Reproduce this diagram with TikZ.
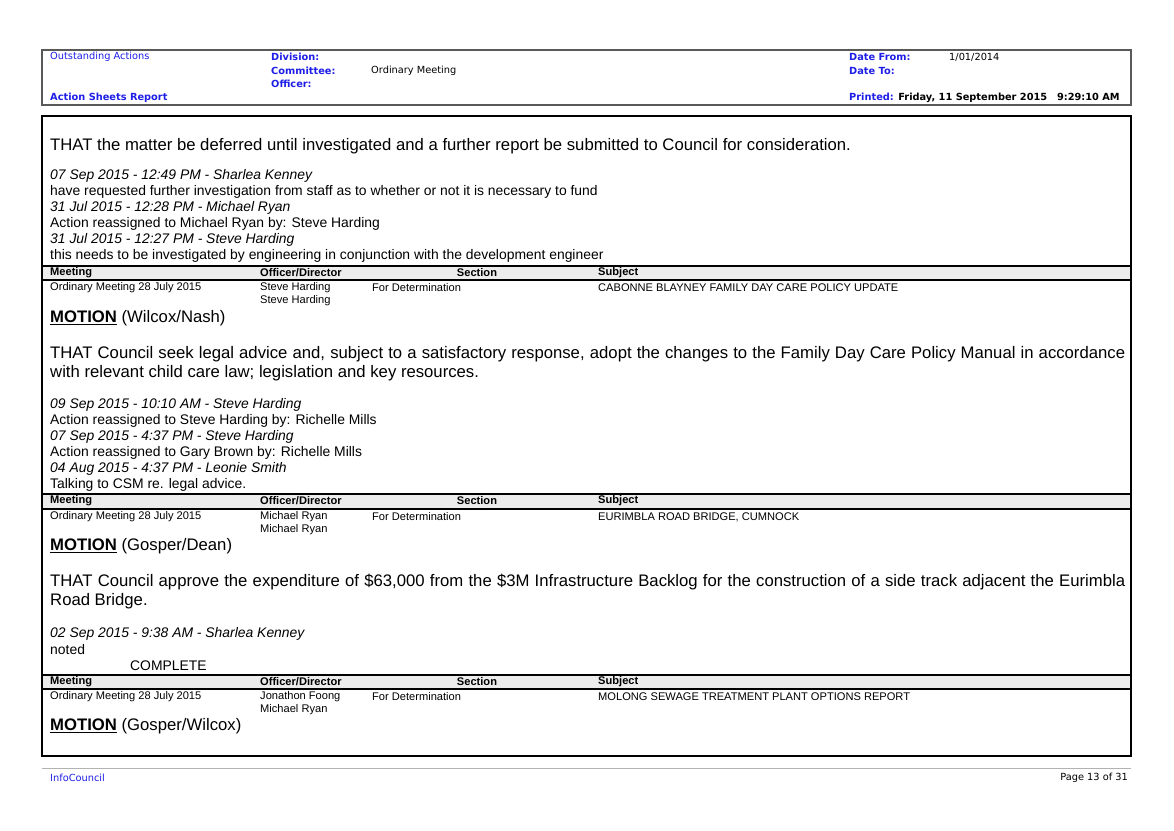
\documentclass[tikz,border=0pt]{standalone}
\usepackage{fontspec}
\setmainfont{Liberation Sans}
\newfontfamily\hdr{DejaVu Sans}
\definecolor{hblue}{RGB}{30,30,230}
\tikzset{
 t/.style={anchor=west,inner sep=0pt},
 big/.style={t,font=\fontsize{16.7}{19}\selectfont},
 sm/.style={t,font=\fontsize{13.9}{15}\selectfont},
 it/.style={t,font=\fontsize{13.9}{15}\selectfont\itshape},
 tb/.style={t,font=\fontsize{11.1}{13}\selectfont},
 th/.style={t,font=\fontsize{11.1}{13}\selectfont\bfseries},
 hd/.style={t,font=\hdr\fontsize{9.8}{12}\selectfont},
 hb/.style={t,font=\hdr\fontsize{9.8}{12}\selectfont\bfseries,text=hblue},
}
\begin{document}
\begin{tikzpicture}[x=1pt,y=-1pt]
\useasboundingbox (0,0) rectangle (1174,830);
% header box
\draw[gray!70!black,line width=1.2pt] (42,50) rectangle (1131,105);
\node[hd,text=hblue] (oa) at (50,57) {Outstanding Actions};
\node[hb] (ash) at (50,98) {Action Sheets Report};
\node[hb] (div) at (271,57) {Division:};
\node[hb] (com) at (271,71) {Committee:};
\node[hb] (off) at (271,84) {Officer:};
\node[hd] (om) at (371,71) {Ordinary Meeting};
\node[hb] (df) at (849,57) {Date From:};
\node[hd] (dfv) at (949,57) {1/01/2014};
\node[hb] (dt) at (849,71) {Date To:};
\node[hb] (pr) at (849,98) {Printed: \textcolor{black}{Friday, 11 September 2015\quad 9:29:10 AM}};
% main box
\draw[line width=1.6pt] (42,116) rectangle (1131,756);
% block 1
\node[big] (b1) at (50,146) {THAT the matter be deferred until investigated and a further report be submitted to Council for consideration.};
\node[it] (b2) at (50,176) {07 Sep 2015 - 12:49 PM - Sharlea Kenney};
\node[sm] (b3) at (50,192) {have requested further investigation from staff as to whether or not it is necessary to fund};
\node[it] (b4) at (50,208) {31 Jul 2015 - 12:28 PM - Michael Ryan};
\node[sm] (b5) at (50,224) {Action reassigned to Michael Ryan by: Steve Harding};
\node[it] (b6) at (50,240) {31 Jul 2015 - 12:27 PM - Steve Harding};
\node[sm] (b7) at (50,256) {this needs to be investigated by engineering in conjunction with the development engineer};
% table 1
\fill[gray!15] (43,266) rectangle (1130,280);
\draw[line width=1.2pt] (43,266) -- (1130,266) (43,280) -- (1130,280);
\node[th] (h1a) at (50,273) {Meeting};
\node[th] (h1b) at (260,273) {Officer/Director};
\node[th,anchor=center] (h1c) at (477,273) {Section};
\node[th] (h1d) at (598,273) {Subject};
\node[tb] (d1a) at (50,288) {Ordinary Meeting 28 July 2015};
\node[tb] (d1b) at (260,288) {Steve Harding};
\node[tb] (d1b2) at (260,301) {Steve Harding};
\node[tb] (d1c) at (372,288) {For Determination};
\node[tb] (d1d) at (598,288) {CABONNE BLAYNEY FAMILY DAY CARE POLICY UPDATE};
\node[big] (m1) at (50,318) {\textbf{\underline{MOTION}} (Wilcox/Nash)};
% block 2
\node[big,text width=1075pt,align=justify,anchor=north west] (c1) at (50,346) {THAT Council seek legal advice and, subject to a satisfactory response, adopt the changes to the Family Day Care Policy Manual in accordance with relevant child care law; legislation and key resources.};
\node[it] (c2) at (50,405) {09 Sep 2015 - 10:10 AM - Steve Harding};
\node[sm] (c3) at (50,421) {Action reassigned to Steve Harding by: Richelle Mills};
\node[it] (c4) at (50,437) {07 Sep 2015 - 4:37 PM - Steve Harding};
\node[sm] (c5) at (50,453) {Action reassigned to Gary Brown by: Richelle Mills};
\node[it] (c6) at (50,469) {04 Aug 2015 - 4:37 PM - Leonie Smith};
\node[sm] (c7) at (50,485) {Talking to CSM re. legal advice.};
% table 2
\fill[gray!15] (43,494) rectangle (1130,509);
\draw[line width=1.2pt] (43,494) -- (1130,494) (43,509) -- (1130,509);
\node[th] (h2a) at (50,501) {Meeting};
\node[th] (h2b) at (260,501) {Officer/Director};
\node[th,anchor=center] (h2c) at (477,501) {Section};
\node[th] (h2d) at (598,501) {Subject};
\node[tb] (d2a) at (50,517) {Ordinary Meeting 28 July 2015};
\node[tb] (d2b) at (260,517) {Michael Ryan};
\node[tb] (d2b2) at (260,530) {Michael Ryan};
\node[tb] (d2c) at (372,517) {For Determination};
\node[tb] (d2d) at (598,517) {EURIMBLA ROAD BRIDGE, CUMNOCK};
\node[big] (m2) at (50,546) {\textbf{\underline{MOTION}} (Gosper/Dean)};
% block 3
\node[big,text width=1075pt,align=justify,anchor=north west] (e1) at (50,574) {THAT Council approve the expenditure of \$63,000 from the \$3M Infrastructure Backlog for the construction of a side track adjacent the Eurimbla Road Bridge.};
\node[it] (e2) at (50,634) {02 Sep 2015 - 9:38 AM - Sharlea Kenney};
\node[sm] (e3) at (50,650) {noted};
\node[sm] (e4) at (130,666) {COMPLETE};
% table 3
\fill[gray!15] (43,675) rectangle (1130,689);
\draw[line width=1.2pt] (43,675) -- (1130,675) (43,689) -- (1130,689);
\node[th] (h3a) at (50,682) {Meeting};
\node[th] (h3b) at (260,682) {Officer/Director};
\node[th,anchor=center] (h3c) at (477,682) {Section};
\node[th] (h3d) at (598,682) {Subject};
\node[tb] (d3a) at (50,697) {Ordinary Meeting 28 July 2015};
\node[tb] (d3b) at (260,697) {Jonathon Foong};
\node[tb] (d3b2) at (260,710) {Michael Ryan};
\node[tb] (d3c) at (372,697) {For Determination};
\node[tb] (d3d) at (598,697) {MOLONG SEWAGE TREATMENT PLANT OPTIONS REPORT};
\node[big] (m3) at (50,726) {\textbf{\underline{MOTION}} (Gosper/Wilcox)};
% footer
\draw[gray!60,line width=0.8pt] (42,768) -- (1131,768);
\node[hd,text=hblue] (ic) at (50,778) {InfoCouncil};
\node[hd,anchor=east] (pg) at (1128,778) {Page 13 of 31};
\end{tikzpicture}
\end{document}
